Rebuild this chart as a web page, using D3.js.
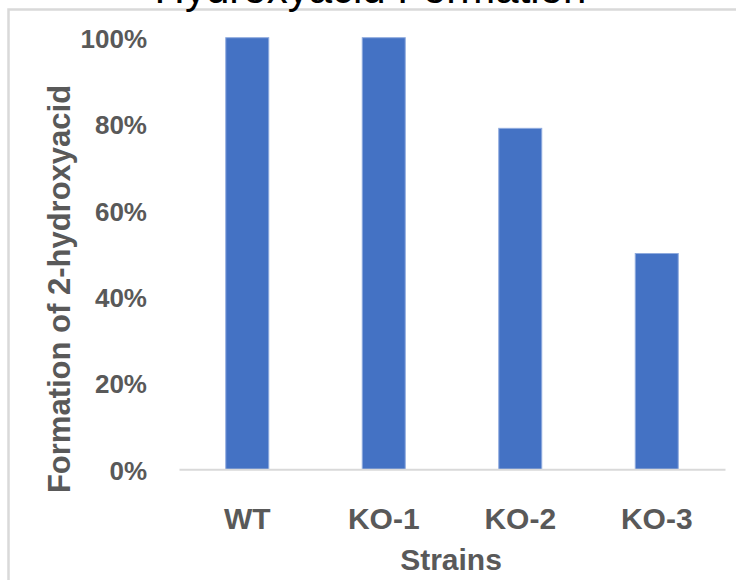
<!DOCTYPE html>
<html>
<head>
<meta charset="utf-8">
<script src="https://cdn.jsdelivr.net/npm/d3@7"></script>
<style>
  html, body { margin: 0; padding: 0; background: #fff; }
  svg { display: block; }
</style>
</head>
<body>
<svg id="chart" width="736" height="580"></svg>
<script>
const categories = ["WT", "KO-1", "KO-2", "KO-3"];
const values = [1.00, 1.00, 0.79, 0.50];
const yTicks = [0, 0.2, 0.4, 0.6, 0.8, 1.0];
const titleText = "Hydroxyacid Formation";
const xTitle = "Strains";
const yTitle = "Formation of 2-hydroxyacid";

const svg = d3.select("#chart");
const plot = { left: 179, right: 725, top: 37.7, bottom: 469.3 };
const FONT = "'Liberation Sans', Arial, sans-serif";

// chart frame (light gray border, partially cropped)
svg.append("rect")
  .attr("x", 8.5).attr("y", 9.5)
  .attr("width", 760).attr("height", 600)
  .attr("fill", "none")
  .attr("stroke", "#d9d9d9")
  .attr("stroke-width", 2.5);

// title (clipped at top, as in the reference)
svg.append("text")
  .attr("x", 370.5).attr("y", 3)
  .attr("text-anchor", "middle")
  .attr("font-family", FONT)
  .attr("font-size", 42)
  .attr("fill", "#000")
  .text(titleText);

const x = d3.scaleBand()
  .domain(categories)
  .range([plot.left, plot.right])
  .paddingInner(0.685)
  .paddingOuter(0.3425);

const y = d3.scaleLinear()
  .domain([0, 1])
  .range([plot.bottom, plot.top]);

// bars
svg.append("g").selectAll("rect")
  .data(categories)
  .join("rect")
  .attr("x", (d) => x(d))
  .attr("y", (d, i) => y(values[i]))
  .attr("width", x.bandwidth())
  .attr("height", (d, i) => y(0) - y(values[i]))
  .attr("fill", "#4472c4")
  .attr("stroke", "#8fabde")
  .attr("stroke-width", 1);

// x axis line + category labels
const xAxis = d3.axisBottom(x).tickSize(0).tickPadding(0);
const gx = svg.append("g")
  .attr("transform", `translate(0,${plot.bottom})`)
  .call(xAxis);
gx.select(".domain").attr("stroke", "#d9d9d9").attr("stroke-width", 2);
gx.selectAll("text")
  .attr("y", 60)
  .attr("dy", null)
  .attr("font-family", FONT)
  .attr("font-weight", "bold")
  .attr("font-size", 30)
  .attr("fill", "#595959");

// y axis labels (no axis line)
const yAxis = d3.axisLeft(y).tickValues(yTicks).tickFormat(d3.format(".0%")).tickSize(0).tickPadding(0);
const gy = svg.append("g")
  .attr("transform", `translate(147,0)`)
  .call(yAxis);
gy.select(".domain").remove();
gy.selectAll("text")
  .attr("x", 0)
  .attr("dy", "0.38em")
  .attr("font-family", FONT)
  .attr("font-weight", "bold")
  .attr("font-size", 26)
  .attr("fill", "#595959");

// axis titles
svg.append("text")
  .attr("x", 451).attr("y", 570)
  .attr("text-anchor", "middle")
  .attr("font-family", FONT)
  .attr("font-weight", "bold")
  .attr("font-size", 30)
  .attr("fill", "#595959")
  .text(xTitle);

svg.append("text")
  .attr("transform", "translate(70,289) rotate(-90)")
  .attr("text-anchor", "middle")
  .attr("font-family", FONT)
  .attr("font-weight", "bold")
  .attr("font-size", 31)
  .attr("fill", "#595959")
  .text(yTitle);
</script>
</body>
</html>
